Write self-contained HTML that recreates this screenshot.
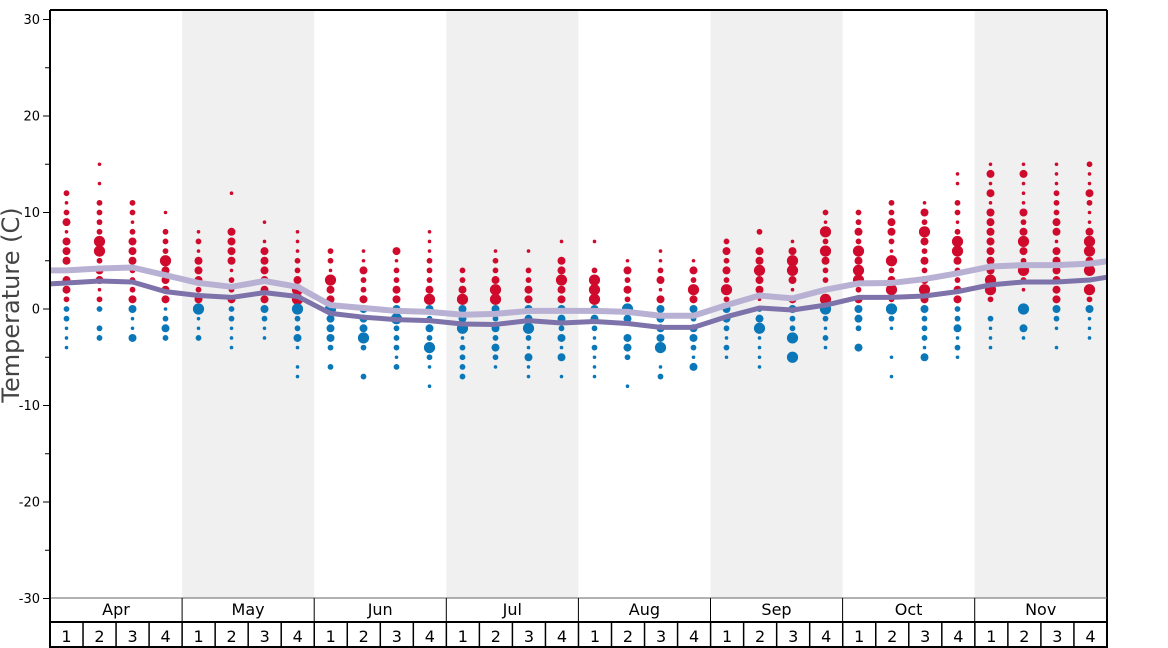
<!DOCTYPE html>
<html><head><meta charset="utf-8"><style>
html,body{margin:0;padding:0;background:#fff;}
svg{display:block;font-family:"DejaVu Sans","Liberation Sans",sans-serif;}
</style></head><body>
<svg id="c" width="1168" height="648" viewBox="0 0 1168 648" xmlns="http://www.w3.org/2000/svg"></svg>
<script>
const NS="http://www.w3.org/2000/svg";
const svg=document.getElementById('c');
function el(t,a,txt){const e=document.createElementNS(NS,t);for(const k in a)e.setAttribute(k,a[k]);if(txt!==undefined)e.textContent=txt;svg.appendChild(e);return e;}
const X0=50,X1=1107,Y0=10,YB=598;
const yT=t=>309-9.65*t;
const xW=i=>X0+16.5+33*i;
for(let m=1;m<8;m+=2){el('rect',{x:X0+132.1*m,y:Y0,width:132.1,height:YB-Y0,fill:'#f0f0f0'});}
const D=[
[12,"212313331332|22111"],[15,"101022224423312|2022"],[11,"22123332223|3113"],[10,"1022243333|1232"],
[8,"12133323|4112"],[12,"100033331223|22111"],[9,"101333333|3211"],[8,"11122344|42231011"],
[6,"221433|4333202"],[6,"113223|33342002"],[6,"312233|3422212"],[8,"11122234|323242101"],
[4,"2234|33412222"],[6,"122344|3232321"],[6,"102233|33421311"],[7,"1033433|33231301"],
[7,"1002444|33212111"],[5,"13232|430332001"],[6,"112313|33334012"],[5,"13243|3233213"],
[7,"2323242|332121"],[8,"20334331|2341111"],[7,"1344313|322404"],[10,"2142432214|42121"],
[10,"2232434423|33203"],[11,"22332142342|42100101"],[11,"13243232343|322213"],[14,"11022124432233|223121"],
[15,"131313333333442|02111"],[15,"131113234324210|4031"],[15,"111222331333333|32101"],[15,"211321134434142|3111"]
];
const R=[0,1.8,2.9,4,5.6];
D.forEach((d,i)=>{const [top,s]=d;const [r,b]=s.split('|');const x=xW(i);
 for(let k=0;k<r.length;k++){const v=+r[k];if(v)el('circle',{cx:x,cy:yT(top-k),r:R[v],fill:'#cf0a2c'});}
 for(let k=0;k<b.length;k++){const v=+b[k];if(v)el('circle',{cx:x,cy:yT(-k),r:R[v],fill:'#0a77b8'});}
});
const light=[4.0,4.2,4.3,3.5,2.7,2.3,2.9,2.3,0.4,0.1,-0.2,-0.3,-0.6,-0.5,-0.2,-0.2,-0.2,-0.3,-0.7,-0.7,0.4,1.4,1.1,2.0,2.65,2.7,3.1,3.7,4.4,4.55,4.55,4.7];
const dark=[2.7,2.9,2.8,1.8,1.4,1.2,1.7,1.3,-0.45,-0.85,-1.1,-1.2,-1.55,-1.6,-1.2,-1.45,-1.3,-1.5,-1.9,-1.9,-0.8,0.1,-0.1,0.4,1.2,1.2,1.35,1.8,2.5,2.8,2.8,3.0];
function pts(a,s,e){let p=[[X0,yT(s)]];a.forEach((v,i)=>p.push([xW(i),yT(v)]));p.push([X1,yT(e)]);return p.map(q=>q.join(',')).join(' ');}
el('polyline',{points:pts(light,4.0,4.95),fill:'none',stroke:'#b8b1d3',"stroke-width":6,"stroke-linejoin":'round'});
el('polyline',{points:pts(dark,2.6,3.3),fill:'none',stroke:'#7d72a9',"stroke-width":5,"stroke-linejoin":'round'});
el('line',{x1:X0,y1:Y0,x2:X1,y2:Y0,stroke:'#000',"stroke-width":2});
el('line',{x1:X1,y1:Y0,x2:X1,y2:648,stroke:'#000',"stroke-width":2});
el('line',{x1:X0,y1:YB,x2:X1,y2:YB,stroke:'#666',"stroke-width":1});
el('line',{x1:X0,y1:Y0,x2:X0,y2:648,stroke:'#000',"stroke-width":2});
for(let t=-30;t<=30;t+=5){const y=yT(t);const maj=t%10===0;
 el('line',{x1:maj?43:45,y1:y,x2:X0,y2:y,stroke:'#000',"stroke-width":1});
 if(maj)el('text',{x:40,y:y+4.5,"text-anchor":'end',"font-size":13,fill:'#000'},String(t));}
el('text',{x:0,y:0,transform:'translate(19,305) rotate(-90)',"text-anchor":'middle',"font-size":24,fill:'#444'},'Temperature (C)');
el('line',{x1:X0,y1:622,x2:X1,y2:622,stroke:'#000',"stroke-width":2});
el('line',{x1:X0,y1:647,x2:X1,y2:647,stroke:'#000',"stroke-width":2});
const M=['Apr','May','Jun','Jul','Aug','Sep','Oct','Nov'];
M.forEach((m,i)=>{const x=X0+132.1*i;if(i>0)el('line',{x1:x,y1:YB,x2:x,y2:622,stroke:'#000',"stroke-width":1});
 el('text',{x:x+66,y:615,"text-anchor":'middle',"font-size":16,fill:'#000'},m);});
for(let i=0;i<32;i++){const x=X0+33.03*i;if(i>0)el('line',{x1:x,y1:622,x2:x,y2:648,stroke:'#000',"stroke-width":1.5});
 el('text',{x:x+16.5,y:642,"text-anchor":'middle',"font-size":16,fill:'#000'},String(i%4+1));}
</script>
</body></html>
